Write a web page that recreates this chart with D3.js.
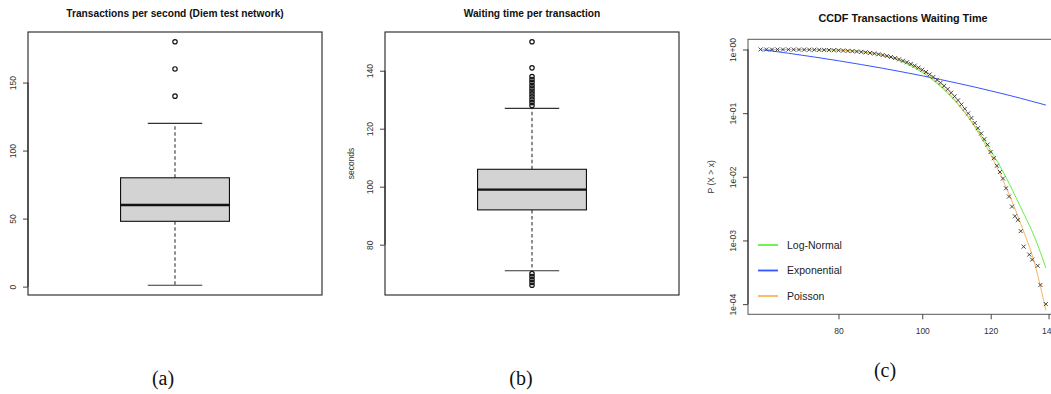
<!DOCTYPE html>
<html>
<head>
<meta charset="utf-8">
<script src="https://cdn.jsdelivr.net/npm/d3@7"></script>
<style>
  body { margin: 0; background: #fff; }
  text { font-family: "Liberation Sans", Arial, Helvetica, sans-serif; }
</style>
</head>
<body>
<svg id="fig" width="1051" height="394"></svg>
<script>
// (a) transactions per second: lower whisker, q1, median, q3, upper whisker
const tpsBox = [1, 48, 60, 80, 120];
const tpsOutliers = [140, 160, 180];
const tpsTicks = [0, 50, 100, 150];

// (b) waiting time per transaction (seconds)
const waitBox = [71, 92, 99, 106, 127];
const waitOutliers = [66, 67, 68, 69, 70, 128, 129, 130, 131, 132, 133, 134, 135, 136, 137, 138, 141, 150];
const waitTicks = [80, 100, 120, 140];

// (c) empirical CCDF of waiting time
const ccdfX = [65, 66, 67, 68, 69, 70, 71, 72, 73, 74, 75, 76, 77, 78, 79, 80, 81, 82, 83, 84,
  85, 86, 87, 88, 89, 90, 91, 92, 93, 94, 95, 96, 97, 98, 99, 100, 101, 102, 103, 104,
  105, 106, 107, 108, 109, 110, 111, 112, 113, 114, 115, 116, 117, 118, 119, 120, 121, 122, 123, 124,
  125, 126, 127, 128, 129, 130, 131, 133, 134, 136, 137, 139];
const ccdfP = [0.9995, 0.9993, 0.999, 0.9987, 0.9981, 0.9975, 0.9966, 0.9956, 0.9941, 0.9925,
  0.9901, 0.9875, 0.9838, 0.9798, 0.9744, 0.9683, 0.961, 0.952, 0.942, 0.93,
  0.916, 0.901, 0.883, 0.863, 0.841, 0.817, 0.791, 0.762, 0.732, 0.7,
  0.666, 0.63, 0.594, 0.557, 0.519, 0.481, 0.443, 0.406, 0.37, 0.334,
  0.3, 0.268, 0.238, 0.209, 0.183, 0.159, 0.137, 0.117, 0.099, 0.084,
  0.07, 0.058, 0.048, 0.039, 0.032, 0.0246, 0.0196, 0.0149, 0.0119, 0.0094,
  0.0066, 0.0049, 0.0034, 0.0024, 0.0021, 0.0014, 0.0008, 0.0006, 0.0005, 0.0004,
  0.0002, 0.0001];

// fitted curves
const fitX = [65, 70, 75, 80, 85, 90, 95, 100, 105, 110, 115, 120, 125, 130, 135, 139];
const lognormP = [1.0, 0.9996, 0.996, 0.979, 0.924, 0.809, 0.634, 0.438, 0.262, 0.138, 0.063, 0.026, 0.0098, 0.0033, 0.0011, 0.00037];
const expP = [1.0, 0.873, 0.762, 0.665, 0.58, 0.507, 0.442, 0.386, 0.337, 0.294, 0.257, 0.224, 0.196, 0.171, 0.149, 0.134];
const poisP = [0.9999, 0.9992, 0.9951, 0.9779, 0.928, 0.823, 0.658, 0.46, 0.276, 0.141, 0.0607, 0.0222, 0.0069, 0.00183, 0.00042, 0.00008];

const ccdfXTicks = [80, 100, 120, 140];
const ccdfYTicks = [1, 0.1, 0.01, 0.001, 0.0001];
const ccdfYLabels = ['1e+00', '1e-01', '1e-02', '1e-03', '1e-04'];

const legendNames = ['Log-Normal', 'Exponential', 'Poisson'];
const legendColors = ['#66ee44', '#3355ff', '#f7b560'];

const svg = d3.select('#fig');

function rotatedLeftAxis(g, x0, scale, ticks, fmt) {
  const ax = g.append('g')
    .attr('transform', `translate(${x0},0)`)
    .call(d3.axisLeft(scale).tickValues(ticks).tickSize(5).tickSizeOuter(0).tickFormat(fmt || d3.format('d')));
  ax.select('.domain').remove();
  ax.selectAll('line').attr('stroke', '#444');
  ax.selectAll('text')
    .attr('transform', 'rotate(-90)')
    .attr('x', 0)
    .attr('y', -12.5)
    .attr('dy', 0)
    .attr('text-anchor', 'middle')
    .attr('fill', '#333')
    .style('font-size', '8.5px');
  // axis line from first to last tick, like R
  g.append('line')
    .attr('x1', x0).attr('x2', x0)
    .attr('y1', scale(ticks[0])).attr('y2', scale(ticks[ticks.length - 1]))
    .attr('stroke', '#222');
  return ax;
}

function boxPanel(left, right, top, bottom, domain, stats, outliers, ticks, title) {
  const g = svg.append('g');
  const x = d3.scaleLinear().domain([0.46, 1.54]).range([left, right]);
  const y = d3.scaleLinear().domain(domain).range([bottom, top]);
  const [lo, q1, med, q3, hi] = stats;

  g.append('text')
    .attr('x', (left + right) / 2).attr('y', 16.5)
    .attr('text-anchor', 'middle')
    .style('font-size', '10.2px').style('font-weight', 'bold')
    .attr('fill', '#111')
    .text(title);

  // dashed whiskers
  [[q3, hi], [q1, lo]].forEach(([a, b]) => {
    g.append('line')
      .attr('x1', x(1)).attr('x2', x(1))
      .attr('y1', y(a)).attr('y2', y(b))
      .attr('stroke', '#555').attr('stroke-width', 1.3)
      .attr('stroke-dasharray', '3.5,2.5');
  });
  // staples
  [lo, hi].forEach(v => {
    g.append('line')
      .attr('x1', x(0.9)).attr('x2', x(1.1))
      .attr('y1', y(v)).attr('y2', y(v))
      .attr('stroke', '#333').attr('stroke-width', 1.1);
  });
  g.append('rect')
    .attr('x', x(0.8)).attr('y', y(q3))
    .attr('width', x(1.2) - x(0.8)).attr('height', y(q1) - y(q3))
    .attr('fill', '#d3d3d3').attr('stroke', '#111').attr('stroke-width', 1.1);
  g.append('line')
    .attr('x1', x(0.8)).attr('x2', x(1.2))
    .attr('y1', y(med)).attr('y2', y(med))
    .attr('stroke', '#111').attr('stroke-width', 2.4);

  g.selectAll('circle.out')
    .data(outliers)
    .enter().append('circle')
    .attr('class', 'out')
    .attr('cx', x(1)).attr('cy', d => y(d))
    .attr('r', 2.2)
    .attr('fill', 'none').attr('stroke', '#111').attr('stroke-width', 1.2);

  g.append('rect')
    .attr('x', left).attr('y', top)
    .attr('width', right - left).attr('height', bottom - top)
    .attr('fill', 'none').attr('stroke', '#222').attr('stroke-width', 1.1);

  rotatedLeftAxis(g, left, y, ticks);
  return g;
}

// panel (a)
boxPanel(28, 322, 32, 295, [-6.16, 187.16], tpsBox, tpsOutliers, tpsTicks,
  'Transactions per second (Diem test network)');

// panel (b)
const gb = boxPanel(385, 679, 32, 295, [62.64, 153.36], waitBox, waitOutliers, waitTicks,
  'Waiting time per transaction');
gb.append('text')
  .attr('transform', 'translate(351,163.5) rotate(-90)')
  .attr('text-anchor', 'middle').attr('dy', '0.35em')
  .style('font-size', '8.5px').attr('fill', '#333')
  .text('seconds');

// panel (c)
const cL = 748, cR = 1087, cT = 39.3, cB = 314.3;
const xc = d3.scaleLog().domain([62.86, 155.1]).range([cL, cR]);
const yc = d3.scaleLog().domain([Math.pow(10, -4.16), Math.pow(10, 0.16)]).range([cB, cT]);
const gc = svg.append('g');

gc.append('text')
  .attr('x', 903).attr('y', 22)
  .attr('text-anchor', 'middle')
  .style('font-size', '10.8px').style('font-weight', 'bold')
  .attr('fill', '#111')
  .text('CCDF Transactions Waiting Time');

gc.append('clipPath').attr('id', 'clipc')
  .append('rect').attr('x', cL).attr('y', cT).attr('width', cR - cL).attr('height', cB - cT);

const plot = gc.append('g').attr('clip-path', 'url(#clipc)');

const line = d3.line()
  .x(d => xc(d[0]))
  .y(d => yc(d[1]))
  .curve(d3.curveMonotoneX);

const fits = [lognormP, expP, poisP];
fits.forEach((ps, i) => {
  plot.append('path')
    .datum(fitX.map((v, k) => [v, ps[k]]))
    .attr('d', line)
    .attr('fill', 'none')
    .attr('stroke', legendColors[i])
    .attr('stroke-width', 1);
});

const pts = ccdfX.map((v, k) => [v, ccdfP[k]]);
plot.selectAll('path.pt')
  .data(pts)
  .enter().append('path')
  .attr('class', 'pt')
  .attr('transform', d => `translate(${xc(d[0])},${yc(d[1])})`)
  .attr('d', 'M-2,-2L2,2M-2,2L2,-2')
  .attr('stroke', '#333').attr('stroke-width', 0.9);

gc.append('rect')
  .attr('x', cL).attr('y', cT)
  .attr('width', cR - cL).attr('height', cB - cT)
  .attr('fill', 'none').attr('stroke', '#555').attr('stroke-width', 1);

rotatedLeftAxis(gc, cL, yc, ccdfYTicks, (d, i) => ccdfYLabels[i]);

const xAx = gc.append('g')
  .attr('transform', `translate(0,${cB})`)
  .call(d3.axisBottom(xc).tickValues(ccdfXTicks).tickSize(5).tickSizeOuter(0).tickFormat(d3.format('d')));
xAx.select('.domain').remove();
xAx.selectAll('line').attr('stroke', '#444');
xAx.selectAll('text')
  .attr('y', 17.4).attr('dy', '0.32em')
  .attr('fill', '#333')
  .style('font-size', '8.5px');

gc.append('text')
  .attr('transform', `translate(711,${(cT + cB) / 2}) rotate(-90)`)
  .attr('text-anchor', 'middle').attr('dy', '0.35em')
  .style('font-size', '8.5px').attr('fill', '#333')
  .text('P (X > x)');

// legend
const legendY = [245, 270.5, 296];
legendNames.forEach((name, i) => {
  gc.append('line')
    .attr('x1', 758).attr('x2', 778)
    .attr('y1', legendY[i]).attr('y2', legendY[i])
    .attr('stroke', legendColors[i]).attr('stroke-width', 1.8);
  gc.append('text')
    .attr('x', 787).attr('y', legendY[i]).attr('dy', '0.35em')
    .style('font-size', '10.5px').attr('fill', '#222')
    .text(name);
});

// sub-figure captions
const captions = ['(a)', '(b)', '(c)'];
const captionX = [163, 521, 885];
const captionY = [378, 378, 370];
captions.forEach((c, i) => {
  svg.append('text')
    .attr('x', captionX[i]).attr('y', captionY[i]).attr('dy', '0.35em')
    .attr('text-anchor', 'middle')
    .style('font-family', '"Liberation Serif", "DejaVu Serif", serif')
    .style('font-size', '20px').attr('fill', '#111')
    .text(c);
});
</script>
</body>
</html>
